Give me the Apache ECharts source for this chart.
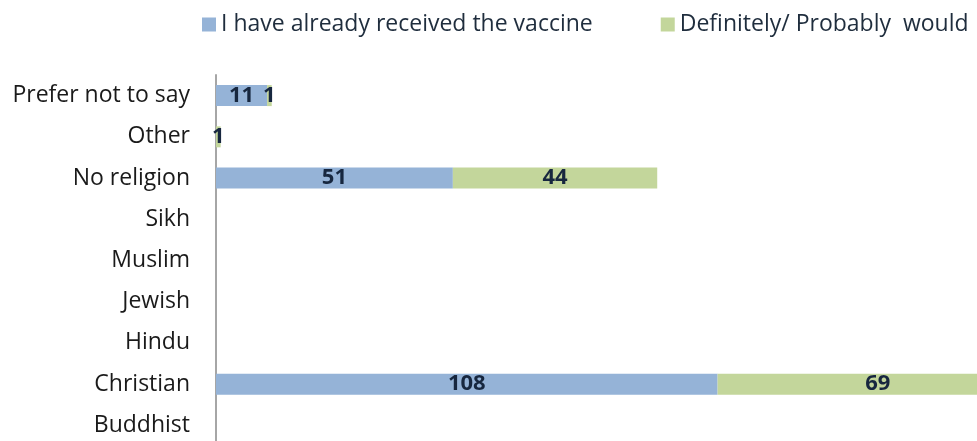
<!DOCTYPE html>
<html>
<head>
<meta charset="utf-8">
<script src="https://cdn.jsdelivr.net/npm/echarts@6/dist/echarts.min.js"></script>
<style>
html,body{margin:0;padding:0;background:#fff;}
#chart{width:977px;height:441px;}
</style>
</head>
<body>
<div id="chart"></div>
<script>
const categories = ['Buddhist','Christian','Hindu','Jewish','Muslim','Sikh','No religion','Other','Prefer not to say'];
const seriesNames = ['I have already received the vaccine','Definitely/ Probably  would'];
const receivedValues = [0,108,0,0,0,0,51,0,11];
const wouldValues = [0,69,0,0,0,0,44,1,1];

const chart = echarts.init(document.getElementById('chart'));
const labelStyle = {
  show: true,
  position: 'inside',
  fontFamily: 'Open Sans',
  fontWeight: 'bold',
  fontSize: 22,
  color: '#17273F',
  formatter: p => p.value > 0 ? p.value : ''
};
chart.setOption({
  animation: false,
  legend: {
    top: 8,
    left: 197,
    itemWidth: 14,
    itemHeight: 14,
    itemGap: 68,
    icon: 'rect',
    textStyle: {fontFamily: 'Open Sans', fontSize: 23, color: '#1F2D3D', padding: [0,0,0,0]},
    data: seriesNames
  },
  grid: {left: 216, width: 836, top: 75, height: 371, containLabel: false, outerBoundsMode: 'none'},
  xAxis: {
    type: 'value', min: 0, max: 180, show: false
  },
  yAxis: {
    type: 'category',
    data: categories,
    axisLine: {show: true, lineStyle: {color: '#A6A6A6', width: 2}},
    axisTick: {show: false},
    splitLine: {show: false},
    axisLabel: {fontFamily: 'Open Sans', fontSize: 23, color: '#1a1a1a', margin: 26}
  },
  series: [
    {name: seriesNames[0], type: 'bar', stack: 'a', data: receivedValues, barWidth: 21, clip: false,
     itemStyle: {color: '#95B3D7'}, label: labelStyle},
    {name: seriesNames[1], type: 'bar', stack: 'a', data: wouldValues, barWidth: 21, clip: false,
     itemStyle: {color: '#C3D69B'}, label: labelStyle}
  ]
});
</script>
</body>
</html>
